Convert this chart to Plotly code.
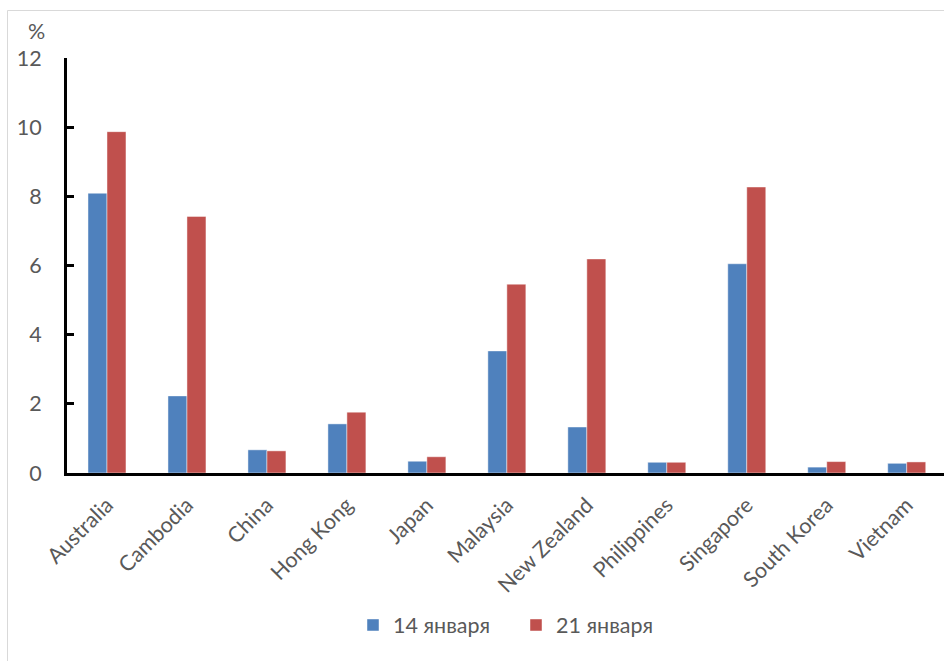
import plotly.graph_objects as go

categories = ["Australia", "Cambodia", "China", "Hong Kong", "Japan", "Malaysia",
              "New Zealand", "Philippines", "Singapore", "South Korea", "Vietnam"]
jan14 = [8.09, 2.23, 0.67, 1.42, 0.34, 3.53, 1.33, 0.31, 6.05, 0.17, 0.28]
jan21 = [9.87, 7.42, 0.64, 1.76, 0.47, 5.46, 6.19, 0.31, 8.27, 0.33, 0.32]
series_names = ["14 января", "21 января"]
y_ticks = [0, 2, 4, 6, 8, 10, 12]

FONT = "Lato, Calibri, 'Open Sans', sans-serif"
GREY = "#595959"
FS = 21.5

fig = go.Figure()
fig.add_trace(go.Bar(x=categories, y=jan14, name=series_names[0],
                     marker=dict(color="#4F81BD", line=dict(color="rgba(255,255,255,0.45)", width=1))))
fig.add_trace(go.Bar(x=categories, y=jan21, name=series_names[1],
                     marker=dict(color="#C0504D", line=dict(color="rgba(255,255,255,0.45)", width=1))))

L, R, T, B = 67, 0, 58, 188
W, H = 944, 661
pw = W - L - R
ph = H - T - B

fig.update_layout(
    width=W, height=H,
    margin=dict(l=L, r=R, t=T, b=B, pad=0),
    paper_bgcolor="white", plot_bgcolor="white",
    barmode="group", bargap=0.525, bargroupgap=0,
    font=dict(family=FONT, size=FS, color=GREY),
    xaxis=dict(type="category", range=[-0.5, 10.466], showgrid=False,
               showline=True, linecolor="black", linewidth=3,
               ticks="", tickangle=-45, ticklabelstandoff=8,
               tickfont=dict(size=FS, color=GREY), fixedrange=True),
    yaxis=dict(range=[0, 12], tickvals=y_ticks, showgrid=False, zeroline=False,
               showline=True, linecolor="black", linewidth=3,
               ticks="inside", ticklen=7, tickwidth=3, tickcolor="black",
               ticklabelstandoff=18,
               tickfont=dict(size=FS, color=GREY), fixedrange=True),
    legend=dict(orientation="h", x=(353 - L) / pw, xanchor="left",
                y=(H - B - 625) / ph, yanchor="middle",
                font=dict(size=FS, color=GREY), entrywidth=118,
                entrywidthmode="pixels", bgcolor="rgba(0,0,0,0)",
                traceorder="normal"),
    showlegend=True,
)

fig.add_annotation(text="%", xref="paper", yref="paper",
                   x=(36 - L) / pw, y=1 + (T - 31) / ph,
                   showarrow=False, xanchor="center", yanchor="middle",
                   font=dict(size=FS, color=GREY))

fig.add_shape(type="rect", xref="paper", yref="paper",
              x0=(7.5 - L) / pw, x1=(960 - L) / pw,
              y0=(H - B - 680) / ph, y1=1 + (T - 10.5) / ph,
              line=dict(color="#D9D9D9", width=1), fillcolor="rgba(0,0,0,0)",
              layer="below")

fig.write_html("out.html")
